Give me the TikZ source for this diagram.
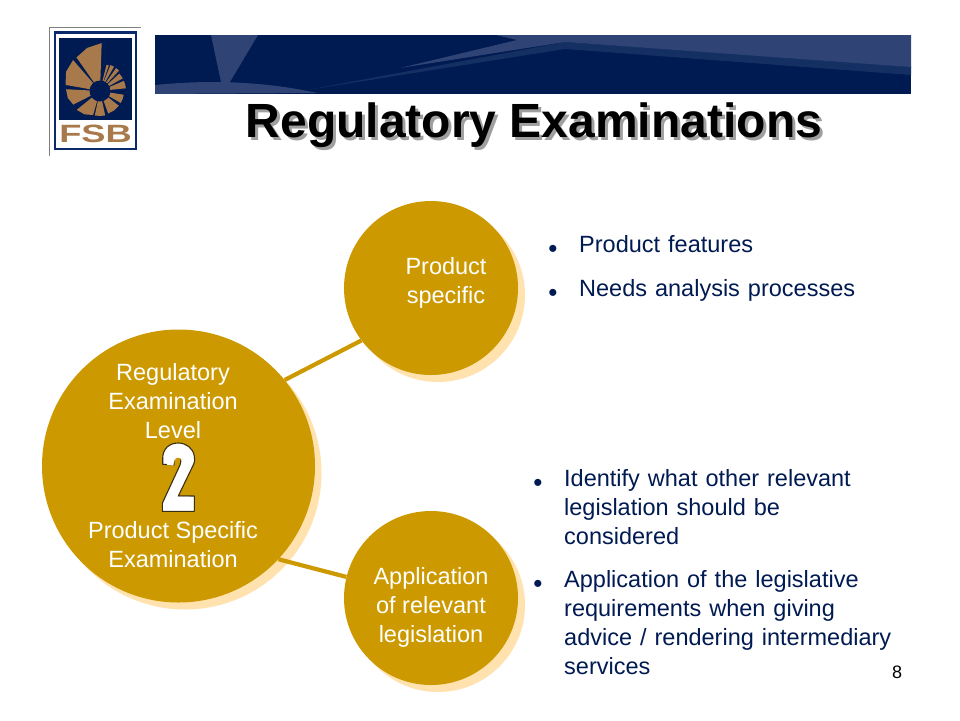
\documentclass[tikz,border=0pt]{standalone}
\usepackage{fontspec}
\setmainfont{Liberation Sans}
\usetikzlibrary{shapes.geometric}
\definecolor{gold}{HTML}{CC9900}
\definecolor{goldshadow}{HTML}{FFE2AE}
\definecolor{navy}{HTML}{001A52}
\definecolor{bandlight}{HTML}{2F4374}
\definecolor{bandmid}{HTML}{143063}
\definecolor{logobrown}{HTML}{A8794A}
\definecolor{logoblue}{HTML}{0B2A6B}
\definecolor{twoedge}{HTML}{3A2E10}
\tikzset{
  disc/.style={circle,fill=gold,draw=none,inner sep=0pt},
  discshadow/.style={circle,fill=goldshadow,draw=none,inner sep=0pt},
  link/.style={draw=gold,line width=4.2pt},
  disctext/.style={text=white,align=center,font=\fontsize{23.5}{29}\selectfont,inner sep=0pt},
  listtext/.style={text=navy,align=left,anchor=west,font=\fontsize{23.5}{29}\selectfont,inner sep=0pt,execute at begin node={\spaceskip=8pt\relax}},
  bulletmark/.style={text=navy,font=\fontsize{26}{29}\selectfont,inner sep=0pt},
  titletext/.style={font=\bfseries\fontsize{48}{50}\selectfont,inner sep=0pt},
  twobody/.style={fill=white,draw=twoedge,line width=1.1pt,line join=round},
  twotext/.style={text=white,font=\bfseries\fontsize{64}{64}\selectfont,xscale=0.74,yscale=1.28,inner sep=0pt}
}
\begin{document}
\begin{tikzpicture}[x=1pt,y=-1pt]
\useasboundingbox (0,0) rectangle (960,720);
\fill[white] (0,0) rectangle (960,720);
% logo
\draw[gray,line width=0.8pt] (141,27) -- (49,27) -- (49,156);
\fill[logoblue] (54,31) rectangle (137,150);
\fill[white] (56,34) rectangle (135,148);
\fill[navy] (59,38) rectangle (132,120);
\foreach \a/\ra/\rm/\rb/\b in {
  88/48/45/41/125, 131/41/39/35/170, 177/34/33/30/207, 219/30/28/25/254,
  258/25/25/25/282, 290/24/24/24/322, 330/24/24/24/351, 6/26/26/26/23,
  29/26/26/26/42, 47/28/28/28/55, 60/28/28/28/68, 71/27/27/27/76}{
  \fill[logobrown] ({100+5*cos(\a)},{91-5*sin(\a)}) -- ({100+\ra*cos(\a)},{91-\ra*sin(\a)})
    -- ({100+\rm*cos((\a+\b)/2)},{91-\rm*sin((\a+\b)/2)})
    -- ({100+\rb*cos(\b)},{91-\rb*sin(\b)}) -- ({100+5*cos(\b)},{91-5*sin(\b)}) -- cycle;
}
\fill[navy] (100,91) circle (10.5);
\node[text=logobrown,font=\bfseries\fontsize{25}{25}\selectfont,xscale=1.45,inner sep=0pt] (fsb) at (95.5,134) {FSB};
% banner
\fill[navy] (155,35) rectangle (911,94);
\fill[bandlight] (211,35) -- (258,35) -- (230,82) -- (221,82) -- cycle;
\fill[bandlight] (155,85) .. controls (185,82) and (205,82) .. (222,82) .. controls (260,83) and (290,87) .. (317,93) -- (155,94) -- cycle;
\fill[bandmid] (307,90) -- (565,42) -- (911,66) -- (911,75) -- (565,49) -- cycle;
\fill[bandlight] (496,35) -- (911,35) -- (911,67) -- (565,42) -- (400,68) -- (517,40) -- cycle;
% title
\node[titletext,text=black!50,opacity=0.75] (titleshadow) at (537,128.5) {Regulatory Examinations};
\node[titletext,text=black] (title) at (534,125.5) {Regulatory Examinations};
% discs
\node[discshadow,minimum size=174pt] (s1) at (438,295) {};
\node[discshadow,minimum size=174pt] (s2) at (438,605) {};
\node[discshadow,minimum size=273pt] (s0) at (185,473) {};
\node[disc,minimum size=174pt] (top) at (431,288) {};
\node[disc,minimum size=174pt] (bot) at (431,598) {};
\node[disc,minimum size=273pt] (big) at (178.5,466) {};
\draw[link] (big.39.8) -- (top.217);
\draw[link] (big.-43.7) -- (bot.166.3);
% disc texts
\node[disctext] (t0a) at (173,401) {Regulatory\\Examination\\Level};
\node[disctext] (t0b) at (173,545) {Product Specific\\Examination};
\node[disctext] (t1) at (446,283) {Product\\specific};
\node[disctext] (t2) at (431,607) {Application\\of relevant\\legislation};
\path[twobody] (162.3,511.3) -- (194.3,511.3) -- (194.3,496) -- (178.3,496) -- (193.3,465)
  .. controls (195,461) and (195,459) .. (194.3,456)
  .. controls (193,448) and (186,443) .. (178.3,443)
  .. controls (169,443) and (162.7,449) .. (162.7,458.3)
  -- (162.7,464.3) -- (174,465) -- (174,458.3)
  .. controls (174,456) and (176,455) .. (178.3,455)
  .. controls (180,455) and (181.5,457) .. (181,459)
  .. controls (181,461) and (180.5,463) .. (180,465)
  -- (162.3,503.3) -- cycle;
\node[twotext] (two) at (178.5,477.5) {2};
% lists
\node[bulletmark] (b1) at (553,251.5) {•};
\node[listtext] (l1) at (579,244) {Product features};
\node[bulletmark] (b2) at (553,295) {•};
\node[listtext] (l2) at (579,290) {Needs analysis processes};
\node[bulletmark] (b3) at (538,485) {•};
\node[listtext] (l3) at (564,507) {Identify what other relevant\\legislation should be\\considered};
\node[bulletmark] (b4) at (538,586) {•};
\node[listtext] (l4) at (564,622.5) {Application of the legislative\\requirements when giving\\advice / rendering intermediary\\services};
\node[text=black,font=\fontsize{18}{18}\selectfont,inner sep=0pt] (page) at (897,672) {8};
\end{tikzpicture}
\end{document}
